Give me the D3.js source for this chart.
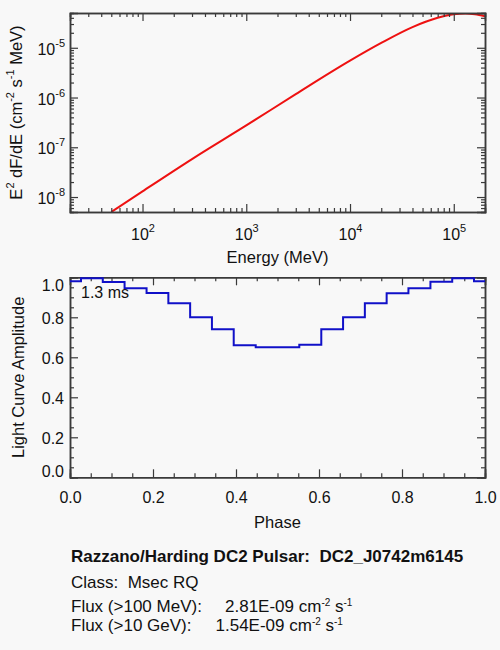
<!DOCTYPE html>
<html>
<head>
<meta charset="utf-8">
<script src="https://cdn.jsdelivr.net/npm/d3@7"></script>
<style>
  body { margin: 0; background: #f8f8f8; }
  svg { display: block; font-family: "Liberation Sans", Arial, Helvetica, sans-serif; }
  text { fill: #111; }
</style>
</head>
<body>
<div id="chart"></div>
<script>
// spectrum (E^2 dF/dE vs energy)
const energy = [50, 100, 300, 1000, 3000, 10000, 20000, 40000, 70000, 100000, 130000, 160000, 200000];
const sed = [5.0e-9, 1.3e-8, 5.8e-8, 2.75e-7, 1.17e-6, 5.5e-6, 1.25e-5, 2.6e-5, 4.0e-5, 4.72e-5, 4.89e-5, 4.7e-5, 4.3e-5];
const energyTicks = [100, 1000, 10000, 100000];
const sedTicks = [1e-8, 1e-7, 1e-6, 1e-5];

// light curve
const phase = [0.000, 0.053, 0.105, 0.158, 0.211, 0.263, 0.316, 0.368, 0.421, 0.474,
               0.526, 0.579, 0.632, 0.684, 0.737, 0.789, 0.842, 0.895, 0.947, 1.000];
const amplitude = [0.980, 0.995, 0.977, 0.945, 0.921, 0.870, 0.800, 0.740, 0.660, 0.650,
                   0.650, 0.663, 0.740, 0.800, 0.870, 0.920, 0.945, 0.978, 0.995, 0.980];
const phaseTicks = [0, 0.2, 0.4, 0.6, 0.8, 1.0];
const ampTicks = [0, 0.2, 0.4, 0.6, 0.8, 1.0];

const infoLines = [
    { label: "Razzano/Harding DC2 Pulsar:  DC2_J0742m6145", bold: true },
    { label: "Class:  Msec RQ" },
    { label: "Flux (>100 MeV):", value: "2.81E-09 cm", valueX: 225 },
    { label: "Flux (>10 GeV):", value: "1.54E-09 cm", valueX: 215.5 }
];

const width = 500, height = 650;
const axisColor = "#3a3a3a";

const svg = d3.select("#chart").append("svg")
    .attr("width", width)
    .attr("height", height);

svg.append("rect").attr("width", width).attr("height", height).attr("fill", "#f8f8f8");

function minorLog(lo, hi) {
    const out = [];
    for (let p = Math.floor(Math.log10(lo)); p <= Math.ceil(Math.log10(hi)); p++) {
        for (let m = 2; m <= 9; m++) {
            const v = m * Math.pow(10, p);
            if (v > lo && v < hi) out.push(v);
        }
    }
    return out;
}

function styleAxis(g) {
    g.select(".domain").attr("stroke", axisColor).attr("stroke-width", 1.5);
    g.selectAll(".tick line").attr("stroke", axisColor).attr("stroke-width", 1.2);
    g.selectAll(".tick text").attr("fill", "#111").attr("font-size", 16);
}

// ---------- top panel: spectrum ----------
const p1 = { left: 70, right: 485, top: 13, bottom: 212 };

const x1 = d3.scaleLog().domain([20, 2e5]).range([p1.left, p1.right]);
const y1 = d3.scaleLog().domain([5e-9, 5e-5]).range([p1.bottom, p1.top]);

svg.append("clipPath").attr("id", "clip1")
    .append("rect")
    .attr("x", p1.left).attr("y", p1.top)
    .attr("width", p1.right - p1.left).attr("height", p1.bottom - p1.top);

const sedPts = energy.map((e, i) => ({ e: e, v: sed[i] }));

svg.append("path")
    .datum(sedPts)
    .attr("clip-path", "url(#clip1)")
    .attr("fill", "none")
    .attr("stroke", "#ee1111")
    .attr("stroke-width", 2)
    .attr("d", d3.line().x(d => x1(d.e)).y(d => y1(d.v)).curve(d3.curveMonotoneX));

// minor ticks
[["bottom", p1.bottom], ["top", p1.top]].forEach(([side, pos]) => {
    const ax = side === "bottom" ? d3.axisBottom(x1) : d3.axisTop(x1);
    svg.append("g")
        .attr("transform", `translate(0,${pos})`)
        .call(ax.tickValues(minorLog(20, 2e5)).tickSize(-4).tickFormat(""))
        .call(styleAxis);
});
[["left", p1.left], ["right", p1.right]].forEach(([side, pos]) => {
    const ax = side === "left" ? d3.axisLeft(y1) : d3.axisRight(y1);
    svg.append("g")
        .attr("transform", `translate(${pos},0)`)
        .call(ax.tickValues(minorLog(5e-9, 5e-5)).tickSize(-4).tickFormat(""))
        .call(styleAxis);
});

// major ticks with labels
const xAx1 = svg.append("g")
    .attr("transform", `translate(0,${p1.bottom})`)
    .call(d3.axisBottom(x1).tickValues(energyTicks).tickSize(-8).tickPadding(0).tickFormat(""))
    .call(styleAxis);
xAx1.selectAll(".tick text")
    .attr("dy", null).attr("y", 28)
    .each(function(d) {
        const t = d3.select(this);
        t.append("tspan").text("10");
        t.append("tspan").attr("dy", -8).attr("font-size", 11).text(Math.round(Math.log10(d)));
    });
svg.append("g")
    .attr("transform", `translate(0,${p1.top})`)
    .call(d3.axisTop(x1).tickValues(energyTicks).tickSize(-8).tickFormat(""))
    .call(styleAxis);

const yAx1 = svg.append("g")
    .attr("transform", `translate(${p1.left},0)`)
    .call(d3.axisLeft(y1).tickValues(sedTicks).tickSize(-8).tickPadding(5).tickFormat(""))
    .call(styleAxis);
yAx1.selectAll(".tick text")
    .attr("dy", null).attr("y", 6.5)
    .each(function(d) {
        const t = d3.select(this);
        t.append("tspan").text("10");
        t.append("tspan").attr("dy", -8).attr("font-size", 11).text(Math.round(Math.log10(d)));
    });
svg.append("g")
    .attr("transform", `translate(${p1.right},0)`)
    .call(d3.axisRight(y1).tickValues(sedTicks).tickSize(-8).tickFormat(""))
    .call(styleAxis);

svg.append("text")
    .attr("x", (p1.left + p1.right) / 2)
    .attr("y", 263)
    .attr("text-anchor", "middle")
    .attr("font-size", 16.5)
    .text("Energy (MeV)");

const yTitle1 = svg.append("text")
    .attr("transform", `translate(22,${(p1.top + p1.bottom) / 2}) rotate(-90)`)
    .attr("text-anchor", "middle")
    .attr("font-size", 16.5);
yTitle1.append("tspan").text("E");
yTitle1.append("tspan").attr("dy", -8).attr("font-size", 11).text("2");
yTitle1.append("tspan").attr("dy", 8).text(" dF/dE (cm");
yTitle1.append("tspan").attr("dy", -8).attr("font-size", 11).text("-2");
yTitle1.append("tspan").attr("dy", 8).text(" s");
yTitle1.append("tspan").attr("dy", -8).attr("font-size", 11).text("-1");
yTitle1.append("tspan").attr("dy", 8).text(" MeV)");

// ---------- bottom panel: light curve ----------
const p2 = { left: 70, right: 485, top: 277.3, bottom: 477.3 };

const x2 = d3.scaleLinear().domain([0, 1]).range([p2.left, p2.right]);
const y2 = d3.scaleLinear().domain([0, 1]).range([p2.bottom, p2.top]);

const minorLin = d3.range(0, 1.0001, 0.05).map(v => +v.toFixed(2)).filter(v => Math.round(v * 100) % 20 !== 0);

[["bottom", p2.bottom], ["top", p2.top]].forEach(([side, pos]) => {
    const ax = side === "bottom" ? d3.axisBottom(x2) : d3.axisTop(x2);
    svg.append("g")
        .attr("transform", `translate(0,${pos})`)
        .call(ax.tickValues(minorLin).tickSize(-4).tickFormat(""))
        .call(styleAxis);
    const g = svg.append("g")
        .attr("transform", `translate(0,${pos})`)
        .call((side === "bottom" ? d3.axisBottom(x2) : d3.axisTop(x2))
            .tickValues(phaseTicks).tickSize(-8).tickPadding(9)
            .tickFormat(side === "bottom" ? d3.format(".1f") : ""))
        .call(styleAxis);
    if (side === "bottom") g.selectAll(".tick text").attr("dy", null).attr("y", 26);
});
[["left", p2.left], ["right", p2.right]].forEach(([side, pos]) => {
    const ax = side === "left" ? d3.axisLeft(y2) : d3.axisRight(y2);
    svg.append("g")
        .attr("transform", `translate(${pos},0)`)
        .call(ax.tickValues(minorLin).tickSize(-4).tickFormat(""))
        .call(styleAxis);
    const g = svg.append("g")
        .attr("transform", `translate(${pos},0)`)
        .call((side === "left" ? d3.axisLeft(y2) : d3.axisRight(y2))
            .tickValues(ampTicks).tickSize(-8).tickPadding(6)
            .tickFormat(side === "left" ? d3.format(".1f") : ""))
        .call(styleAxis);
    // end labels are kept inside the axis span
    g.selectAll(".tick text").attr("dy", null)
        .attr("y", d => d === 1 ? 13 : d === 0 ? -0.5 : 6.5);
});

svg.append("path")
    .datum(phase.map((p, i) => ({ p: p, a: amplitude[i] })))
    .attr("fill", "none")
    .attr("stroke", "#1010c8")
    .attr("stroke-width", 2)
    .attr("d", d3.line().x(d => x2(d.p)).y(d => y2(d.a)).curve(d3.curveStep));

svg.append("text")
    .attr("x", 81)
    .attr("y", 298)
    .attr("font-size", 16)
    .text("1.3 ms");

svg.append("text")
    .attr("x", (p2.left + p2.right) / 2)
    .attr("y", 528)
    .attr("text-anchor", "middle")
    .attr("font-size", 16.5)
    .text("Phase");

svg.append("text")
    .attr("transform", `translate(24,${(p2.top + p2.bottom) / 2}) rotate(-90)`)
    .attr("text-anchor", "middle")
    .attr("font-size", 16.5)
    .text("Light Curve Amplitude");

// ---------- info block ----------
const lineY = [562, 588, 611.5, 630.5];
infoLines.forEach((ln, i) => {
    const t = svg.append("text")
        .attr("x", 71)
        .attr("y", lineY[i])
        .attr("font-size", 17)
        .attr("font-weight", ln.bold ? "bold" : null)
        .attr("xml:space", "preserve")
        .style("white-space", "pre");
    t.append("tspan").text(ln.label);
    if (ln.value) {
        t.append("tspan").attr("x", ln.valueX).text(ln.value);
        t.append("tspan").attr("dy", -6).attr("font-size", 10).text("-2");
        t.append("tspan").attr("dy", 6).text(" s");
        t.append("tspan").attr("dy", -6).attr("font-size", 10).text("-1");
    }
});
</script>
</body>
</html>
